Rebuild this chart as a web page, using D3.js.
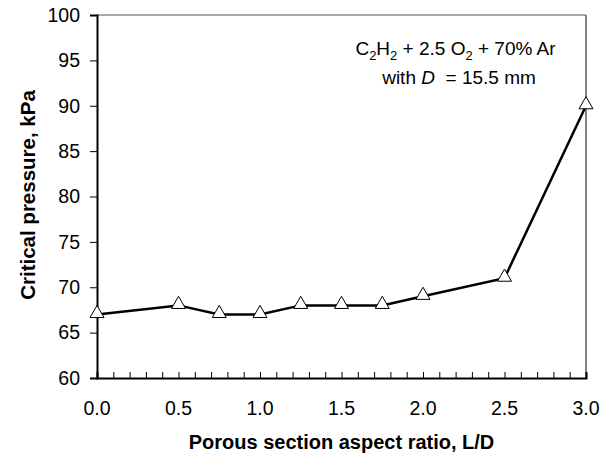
<!DOCTYPE html>
<html>
<head>
<meta charset="utf-8">
<script src="https://cdn.jsdelivr.net/npm/d3@7"></script>
<style>
  body { margin: 0; background: #fff; }
  svg { display: block; font-family: "Liberation Sans", Arial, sans-serif; }
</style>
</head>
<body>
<div id="chart"></div>
<script>
const aspectRatio = [0.0, 0.5, 0.75, 1.0, 1.25, 1.5, 1.75, 2.0, 2.5, 3.0];
const criticalPressure = [67, 68, 67, 67, 68, 68, 68, 69, 71, 90];
const xTicks = [0.0, 0.5, 1.0, 1.5, 2.0, 2.5, 3.0];
const xMinorTicks = d3.range(0, 30.5, 1).map(d => d / 10);
const yTicks = [60, 65, 70, 75, 80, 85, 90, 95, 100];

const width = 603, height = 461;
const margin = { top: 15, right: 17, bottom: 83, left: 97 };

const svg = d3.select("#chart").append("svg")
    .attr("width", width)
    .attr("height", height);

const x = d3.scaleLinear().domain([0, 3]).range([margin.left, width - margin.right]);
const y = d3.scaleLinear().domain([60, 100]).range([height - margin.bottom, margin.top]);

// frame: top and right thin grey
svg.append("line")
    .attr("x1", x(0)).attr("x2", x(3))
    .attr("y1", y(100)).attr("y2", y(100))
    .attr("stroke", "#555").attr("stroke-width", 1);
svg.append("line")
    .attr("x1", x(3)).attr("x2", x(3))
    .attr("y1", y(100)).attr("y2", y(60))
    .attr("stroke", "#333").attr("stroke-width", 1.2);

// x axis
const xAxis = svg.append("g")
    .attr("transform", `translate(0,${y(60)})`)
    .call(d3.axisBottom(x).tickValues(xMinorTicks).tickSize(-6).tickFormat(""));
xAxis.select(".domain").attr("stroke", "#000").attr("stroke-width", 2);
xAxis.selectAll(".tick line").attr("stroke", "#000").attr("stroke-width", 1);

svg.append("g").selectAll("text")
    .data(xTicks)
    .join("text")
    .attr("x", d => x(d))
    .attr("y", y(60) + 37)
    .attr("text-anchor", "middle")
    .attr("font-size", "19.5px")
    .text(d => d3.format(".1f")(d));

// y axis
const yAxis = svg.append("g")
    .attr("transform", `translate(${x(0)},0)`)
    .call(d3.axisLeft(y).tickValues(yTicks).tickSize(7).tickPadding(10).tickFormat(d3.format("d")));
yAxis.select(".domain").attr("stroke", "#000").attr("stroke-width", 2);
yAxis.selectAll(".tick line").attr("stroke", "#000").attr("stroke-width", 1);
yAxis.selectAll(".tick text").attr("font-size", "19.5px").attr("fill", "#000")
    .attr("font-family", "Liberation Sans, Arial, sans-serif");

// line
const line = d3.line()
    .x((d, i) => x(aspectRatio[i]))
    .y(d => y(d));

svg.append("path")
    .datum(criticalPressure)
    .attr("d", line)
    .attr("fill", "none")
    .attr("stroke", "#000")
    .attr("stroke-width", 2.5);

// triangle markers
const tri = d3.symbol().type(d3.symbolTriangle).size(85);
svg.append("g").selectAll("path")
    .data(criticalPressure)
    .join("path")
    .attr("d", tri)
    .attr("transform", (d, i) => `translate(${x(aspectRatio[i])},${y(d) - 1})`)
    .attr("fill", "#fff")
    .attr("stroke", "#000")
    .attr("stroke-width", 1);

// axis titles
svg.append("text")
    .attr("x", (x(0) + x(3)) / 2)
    .attr("y", 449)
    .attr("text-anchor", "middle")
    .attr("font-size", "20px")
    .attr("font-weight", "bold")
    .text("Porous section aspect ratio, L/D");

svg.append("text")
    .attr("transform", `translate(35,195) rotate(-90)`)
    .attr("text-anchor", "middle")
    .attr("font-size", "20.5px")
    .attr("font-weight", "bold")
    .text("Critical pressure, kPa");

// annotation
const note = svg.append("text")
    .attr("x", 455.5)
    .attr("y", 55)
    .attr("text-anchor", "middle")
    .attr("font-size", "19px");
note.append("tspan").text("C");
note.append("tspan").attr("font-size", "13px").attr("dy", 5).text("2");
note.append("tspan").attr("dy", -5).text("H");
note.append("tspan").attr("font-size", "13px").attr("dy", 5).text("2");
note.append("tspan").attr("dy", -5).text(" + 2.5 O");
note.append("tspan").attr("font-size", "13px").attr("dy", 5).text("2");
note.append("tspan").attr("dy", -5).text(" + 70% Ar");

const note2 = svg.append("text")
    .attr("x", 459)
    .attr("y", 84)
    .attr("text-anchor", "middle")
    .attr("font-size", "19px");
note2.append("tspan").text("with ");
note2.append("tspan").attr("font-style", "italic").text("D");
note2.append("tspan").text("  = 15.5 mm").attr("xml:space", "preserve");
</script>
</body>
</html>
